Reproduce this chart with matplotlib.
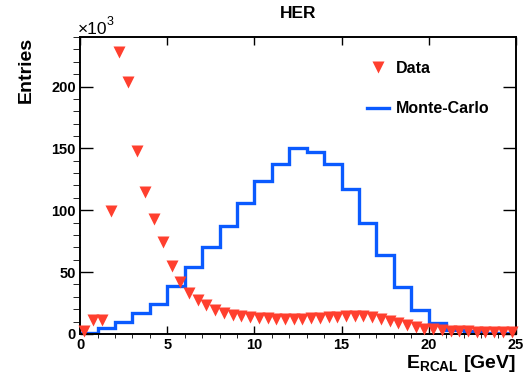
import numpy as np
import matplotlib
matplotlib.use('Agg')
import matplotlib.pyplot as plt
from matplotlib.lines import Line2D

plt.rcParams['font.family'] = ['Liberation Sans', 'DejaVu Sans']
plt.rcParams['mathtext.fontset'] = 'custom'
plt.rcParams['mathtext.rm'] = 'Liberation Sans:bold'
plt.rcParams['mathtext.it'] = 'Liberation Sans:bold'
plt.rcParams['mathtext.bf'] = 'Liberation Sans:bold'

# Monte-Carlo histogram, 1 GeV bins, entries in units of 10^3
mc_edges = np.arange(0, 26, 1)
mc_counts = [1.0, 5.0, 10.0, 16.5, 24.5, 38.5, 54.0, 70.0, 87.5, 106.0,
             123.5, 137.0, 150.0, 147.0, 137.5, 117.0, 90.0, 64.0, 38.0, 19.5,
             9.2, 3.3, 2.0, 1.0, 0.5]

# Data points, 0.5 GeV bins (bin centres), entries in units of 10^3
data_x = np.arange(0.25, 25, 0.5)
data_y = [2.5, 11.5, 11.5, 99.0, 228.0, 204.0, 148.0, 115.0, 93.0, 74.0,
          55.0, 42.0, 33.0, 27.5, 23.0, 19.5, 17.0, 15.2, 14.2, 13.4,
          12.9, 12.6, 12.4, 12.3, 12.3, 12.4, 12.6, 12.9, 13.3, 13.8,
          14.3, 14.7, 14.6, 13.8, 12.3, 10.5, 8.5, 6.8, 5.3, 4.3,
          3.6, 3.0, 2.6, 2.3, 2.1, 1.9, 1.7, 1.6, 1.5, 1.4]

red = '#ff3f2e'
blue = '#0a5aff'

fig = plt.figure(figsize=(5.27, 3.86), dpi=100)
ax = fig.add_axes([0.152, 0.135, 0.827, 0.769])

ax.stairs(mc_counts, mc_edges, baseline=None, color=blue, lw=2.4, zorder=2)
ax.plot(data_x, data_y, 'v', color=red, ms=9, mec='none', zorder=3, clip_on=False)

ax.set_xlim(0, 25)
ax.set_ylim(0, 240)
ax.set_xticks([0, 5, 10, 15, 20, 25])
ax.set_xticks(np.arange(0, 26, 1), minor=True)
ax.set_yticks([0, 50, 100, 150, 200])
ax.set_yticks(np.arange(0, 241, 10), minor=True)

for s in ax.spines.values():
    s.set_linewidth(1.4)
ax.tick_params(direction='in', top=True, right=True, width=1.0)
ax.tick_params(axis='x', which='major', length=5.8, pad=3)
ax.tick_params(axis='x', which='minor', length=2.9)
ax.tick_params(axis='y', which='major', length=9.4, pad=3)
ax.tick_params(axis='y', which='minor', length=5.0)
for lab in ax.get_xticklabels() + ax.get_yticklabels():
    lab.set_fontweight('bold')
    lab.set_fontsize(10.5)

# exponent marker above the y axis
ax.text(-0.005, 1.0, '×10', transform=ax.transAxes, fontsize=12.5,
        ha='left', va='bottom')
ax.text(0.06, 1.03, '3', transform=ax.transAxes, fontsize=9,
        ha='left', va='bottom')

fig.text(0.565, 0.965, 'HER', fontsize=12.5, fontweight='bold', ha='center', va='center')
ax.set_ylabel('Entries', fontsize=14, fontweight='bold', loc='top', labelpad=12)
ax.set_xlabel(r'E$_{\rm RCAL}$ [GeV]', fontsize=14, fontweight='bold', loc='right', labelpad=1)

handles = [Line2D([], [], ls='none', marker='v', color=red, ms=9, mec='none'),
           Line2D([], [], color=blue, lw=2.4)]
leg = ax.legend(handles, ['Data', 'Monte-Carlo'], loc='upper left',
                bbox_to_anchor=(0.658, 0.92), frameon=False, borderpad=0,
                borderaxespad=0, handlelength=1.4, handletextpad=0.4,
                labelspacing=1.6, prop={'weight': 'bold', 'size': 11.5})

fig.savefig('out.png', dpi=100)
